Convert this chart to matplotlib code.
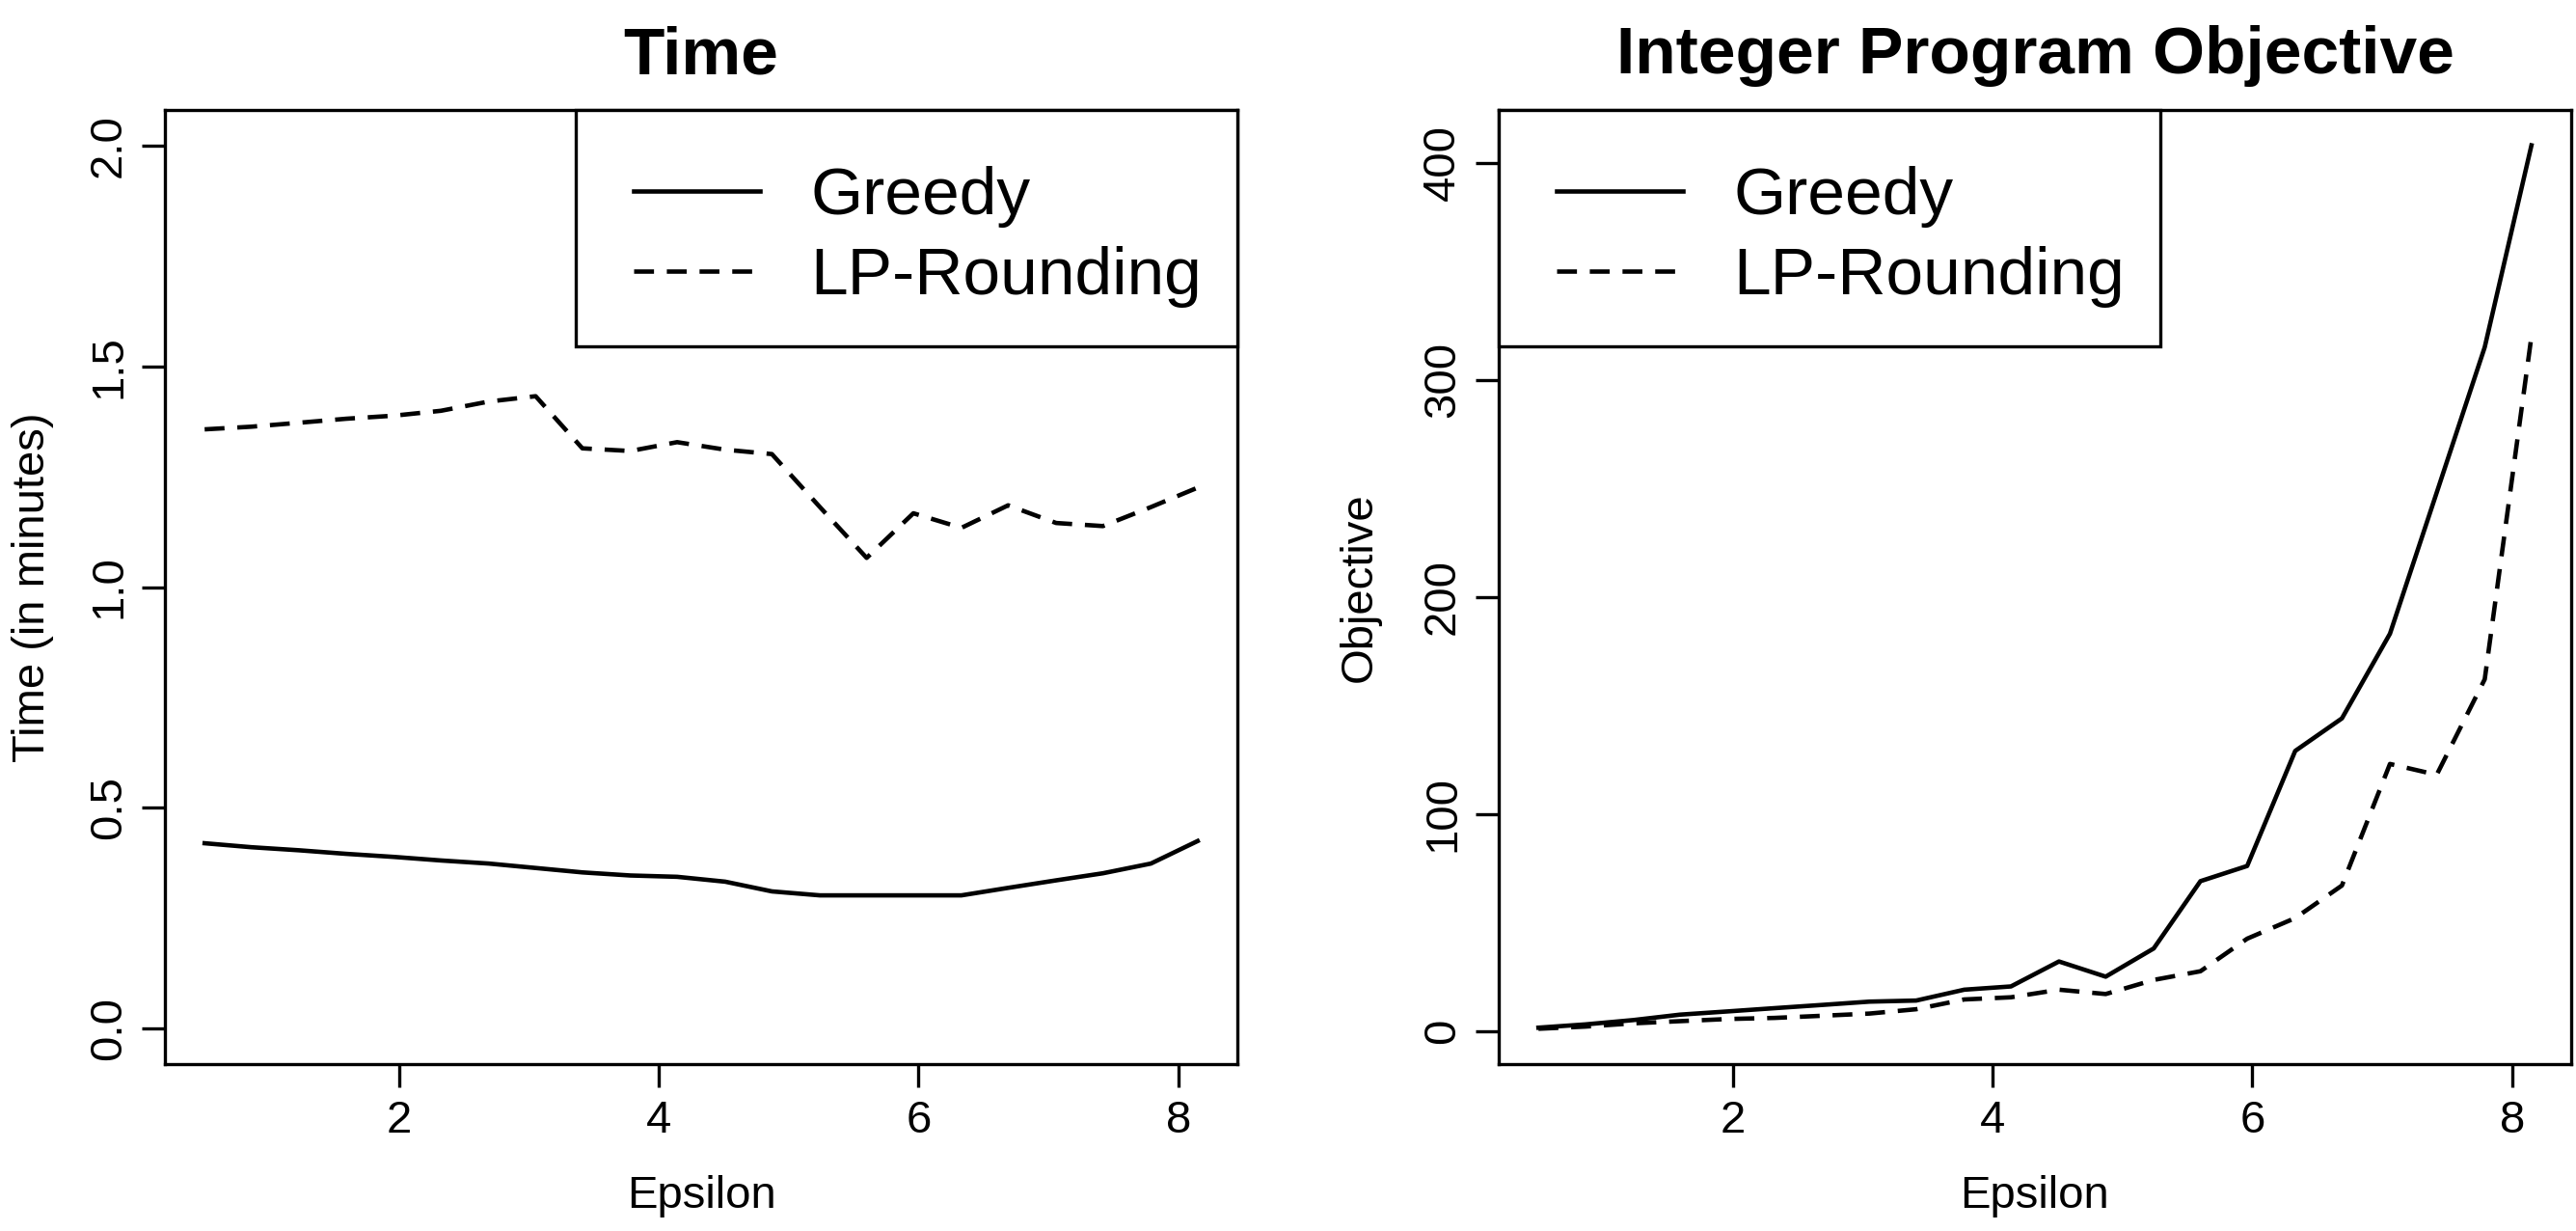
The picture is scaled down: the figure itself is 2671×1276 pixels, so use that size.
import matplotlib
matplotlib.use("Agg")
import matplotlib.pyplot as plt
from matplotlib.patches import Rectangle
from matplotlib.legend_handler import HandlerLine2D

plt.rcParams['font.family'] = ['Liberation Sans', 'DejaVu Sans']

# ---- data ----
epsilon = [0.50, 0.86, 1.23, 1.59, 1.96, 2.32, 2.69, 3.05, 3.41, 3.78, 4.14,
           4.51, 4.87, 5.24, 5.60, 5.96, 6.33, 6.69, 7.06, 7.42, 7.79, 8.15]

time_greedy = [0.420, 0.411, 0.404, 0.396, 0.389, 0.381, 0.374, 0.364, 0.354, 0.347, 0.344,
               0.333, 0.311, 0.302, 0.302, 0.302, 0.302, 0.319, 0.336, 0.352, 0.374, 0.425]
time_lp = [1.357, 1.363, 1.372, 1.381, 1.388, 1.399, 1.420, 1.432, 1.314, 1.308, 1.328,
           1.311, 1.301, 1.181, 1.066, 1.167, 1.134, 1.185, 1.145, 1.138, 1.181, 1.225]

obj_greedy = [1.5, 3, 5, 7.5, 9, 10.5, 12, 13.5, 14, 19, 20.5,
              32, 25, 38, 69, 76, 129, 144, 183, 248, 315, 408]
obj_lp = [1, 2, 3.5, 4.5, 5.5, 6, 7, 8, 10, 14.5, 15.5,
          19, 17, 23.5, 27.5, 42.5, 52, 67, 123, 118, 162, 320]

series_labels = ["Greedy", "LP-Rounding"]
time_yticks = [0.0, 0.5, 1.0, 1.5, 2.0]
obj_yticks = [0, 100, 200, 300, 400]
xticks = [2, 4, 6, 8]

W, H = 2671, 1276
fig = plt.figure(figsize=(W / 100, H / 100), dpi=100)

AX_W, AX_H = 1112, 989
ax_l = fig.add_axes([171 / W, 173 / H, AX_W / W, AX_H / H])
ax_r = fig.add_axes([1554 / W, 173 / H, AX_W / W, AX_H / H])

LW = 3.3
DASH = (0, (4.5, 2.9))
TICK_FS = 34
LAB_FS = 34
TITLE_FS = 50
LEG_FS = 50
FRAME_LW = 2.4

# legend box size (pixels) and content offsets
LEG_BOX_W, LEG_BOX_H = 686, 245
LEG_IN_X, LEG_IN_Y = 49, 58

def style(ax):
    for s in ax.spines.values():
        s.set_linewidth(FRAME_LW)
        s.set_color('black')
    ax.tick_params(axis='both', direction='out', length=17, width=FRAME_LW,
                   labelsize=TICK_FS, colors='black')
    ax.tick_params(axis='x', pad=10)
    ax.tick_params(axis='y', pad=9, labelrotation=90)
    for lab in ax.get_yticklabels():
        lab.set_va('center')

def add_legend(ax, side):
    bw, bh = LEG_BOX_W / AX_W, LEG_BOX_H / AX_H
    x0 = 1 - bw if side == 'right' else 0.0
    box = Rectangle((x0, 1 - bh), bw, bh, transform=ax.transAxes,
                    facecolor='white', edgecolor='black', lw=FRAME_LW,
                    zorder=4, clip_on=False)
    ax.add_patch(box)
    leg = ax.legend(loc='upper left',
                    bbox_to_anchor=(x0 + LEG_IN_X / AX_W, 1 - LEG_IN_Y / AX_H),
                    fontsize=LEG_FS, frameon=False, borderaxespad=0, borderpad=0,
                    handlelength=2.05, handletextpad=0.75, labelspacing=0.28,
                    handler_map={plt.Line2D: HandlerLine2D(xpad=0.16)})
    leg.set_zorder(5)
    return leg

# Left: Time
ax_l.plot(epsilon, time_greedy, color='black', lw=LW, linestyle='-', label=series_labels[0])
ax_l.plot(epsilon, time_lp, color='black', lw=LW, linestyle=DASH, label=series_labels[1])
ax_l.margins(x=0.04)
ax_l.set_ylim(-0.08, 2.08)
ax_l.set_xticks(xticks)
ax_l.set_yticks(time_yticks)
ax_l.set_yticklabels([f"{v:.1f}" for v in time_yticks])
style(ax_l)
ax_l.set_title("Time", fontsize=TITLE_FS, fontweight='bold', pad=27)
ax_l.set_xlabel("Epsilon", fontsize=LAB_FS, va='center')
ax_l.set_ylabel("Time (in minutes)", fontsize=LAB_FS, va='center')
ax_l.xaxis.set_label_coords(0.5, -0.1385)
ax_l.yaxis.set_label_coords(-0.123, 0.5)
add_legend(ax_l, 'right')

# Right: Objective
ax_r.plot(epsilon, obj_greedy, color='black', lw=LW, linestyle='-', label=series_labels[0])
ax_r.plot(epsilon, obj_lp, color='black', lw=LW, linestyle=DASH, label=series_labels[1])
ax_r.margins(x=0.04, y=0.04)
ax_r.set_xticks(xticks)
ax_r.set_yticks(obj_yticks)
style(ax_r)
ax_r.set_title("Integer Program Objective", fontsize=TITLE_FS, fontweight='bold', pad=27)
ax_r.set_xlabel("Epsilon", fontsize=LAB_FS, va='center')
ax_r.set_ylabel("Objective", fontsize=LAB_FS, va='center')
ax_r.xaxis.set_label_coords(0.5, -0.1385)
ax_r.yaxis.set_label_coords(-0.1295, 0.5)
add_legend(ax_r, 'left')

fig.savefig("out.png", dpi=100, facecolor='white')
